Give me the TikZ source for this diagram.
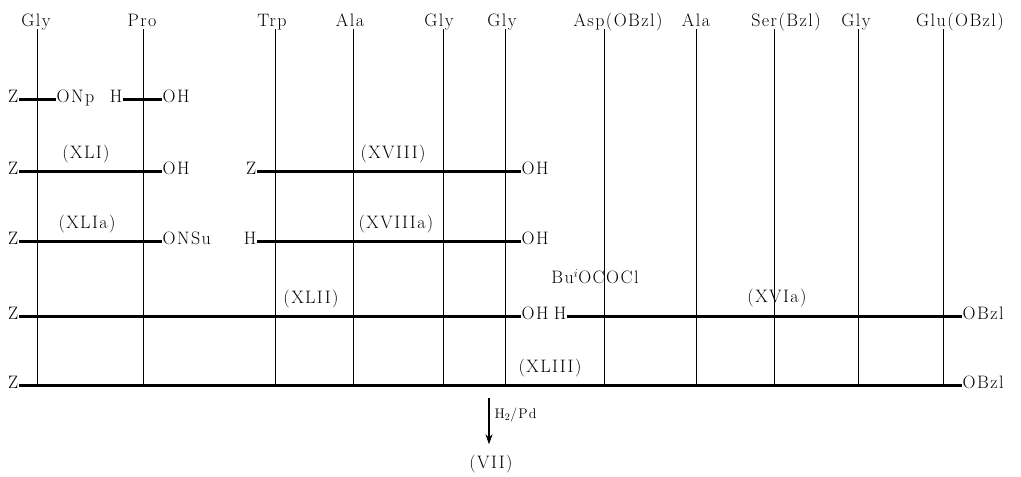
\documentclass[tikz,border=0pt]{standalone}
\usepackage{fontspec}
\setmainfont{Latin Modern Roman}[LetterSpace=8.0]
\usetikzlibrary{arrows.meta}
\begin{document}
\begin{tikzpicture}[x=1pt,y=-1pt,
  every node/.style={font=\fontsize{18}{21}\selectfont, inner sep=0.5pt},
  tl/.style={text height=1.55ex, text depth=0pt},
  hdr/.style={anchor=south, text height=1.6ex, text depth=0.5ex},
  thick line/.style={line width=3pt},
  vline/.style={line width=0.9pt}]
\useasboundingbox (0,0) rectangle (1021,477);
% header labels
\node[hdr] (h1) at (36,29) {Gly};
\node[hdr] (h2) at (142,29) {Pro};
\node[hdr] (h3) at (272,29) {Trp};
\node[hdr] (h4) at (350,29) {Ala};
\node[hdr] (h5) at (439,29) {Gly};
\node[hdr] (h6) at (502,29) {Gly};
\node[hdr] (h7) at (618,29) {Asp(OBzl)};
\node[hdr] (h8) at (696,29) {Ala};
\node[hdr] (h9) at (786,29) {Ser(Bzl)};
\node[hdr] (h10) at (856,29) {Gly};
\node[hdr] (h11) at (960,29) {Glu(OBzl)};
% vertical lines
\foreach \i/\x in {1/37,2/143,3/275,4/353,5/443,6/505,7/604,8/696,9/774,10/858,11/943}{
  \coordinate (b\i) at (\x,385);
  \draw[vline] (h\i.south -| b\i) -- (b\i);
}
% row 1
\node[tl,anchor=east] (r1z) at (19,99) {Z};
\node[tl,anchor=west] (r1o) at (56,99) {ONp};
\node[tl,anchor=east] (r1h) at (123,99) {H};
\node[tl,anchor=west] (r1oh) at (162,99) {OH};
\draw[thick line] (r1z.east) -- (r1o.west);
\draw[thick line] (r1h.east) -- (r1oh.west);
% row 2
\node[tl,anchor=east] (r2z) at (19,171) {Z};
\node[tl,anchor=west] (r2oh) at (162,171) {OH};
\draw[thick line] (r2z.east) -- (r2oh.west);
\node (l41) at (86,154) {(XLI)};
\node[tl,anchor=east] (r2z2) at (257,171) {Z};
\node[tl,anchor=west] (r2oh2) at (521,171) {OH};
\draw[thick line] (r2z2.east) -- (r2oh2.west);
\node (l18) at (393,154) {(XVIII)};
% row 3
\node[tl,anchor=east] (r3z) at (19,241) {Z};
\node[tl,anchor=west] (r3o) at (162,241) {ONSu};
\draw[thick line] (r3z.east) -- (r3o.west);
\node (l41a) at (87,224) {(XLIa)};
\node[tl,anchor=east] (r3h) at (257,241) {H};
\node[tl,anchor=west] (r3oh) at (521,241) {OH};
\draw[thick line] (r3h.east) -- (r3oh.west);
\node (l18a) at (396,224) {(XVIIIa)};
% row 4
\node[tl,anchor=east] (r4z) at (19,316) {Z};
\node[tl,anchor=west] (r4oh) at (521,316) {OH};
\draw[thick line] (r4z.east) -- (r4oh.west);
\node (l42) at (311,299) {(XLII)};
\node[tl,anchor=east] (r4h) at (567,316) {H};
\node[tl,anchor=west] (r4ob) at (962,316) {OBzl};
\draw[thick line] (r4h.east) -- (r4ob.west);
\node (l16a) at (777,298) {(XVIa)};
\node (bu) at (595,277) {Bu$^{i}$OCOCl};
% row 5
\node[tl,anchor=east] (r5z) at (19,385) {Z};
\node[tl,anchor=west] (r5ob) at (962,385) {OBzl};
\draw[thick line] (r5z.east) -- (r5ob.west);
\node (l43) at (550,368) {(XLIII)};
% hydrogenolysis
\coordinate (a1) at (489,398);
\node (p7) at (491,464) {(VII)};
\draw[line width=1.1pt,shorten >=10pt,-{Stealth[length=10pt,width=7pt]}] (a1) -- (p7.north -| a1);
\node[anchor=west,font=\fontsize{14}{16}\selectfont] (h2pd) at (494,415) {H$_2$/Pd};
\end{tikzpicture}
\end{document}
